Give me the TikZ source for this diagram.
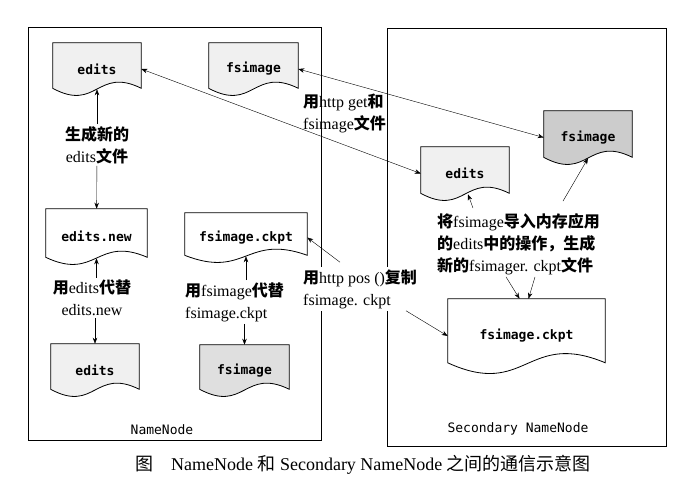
\documentclass[tikz,border=0pt]{standalone}
\usepackage{fontspec}
\setmainfont{Liberation Serif}
\setmonofont{DejaVu Sans Mono}
\newfontfamily\cjk{Noto Sans CJK SC}
\newcommand{\zh}[1]{{\cjk\bfseries #1}}
\newcommand{\zhr}[1]{{\cjk #1}}
\usetikzlibrary{arrows.meta, backgrounds}
\tikzset{
>={Stealth[length=6pt,width=4.5pt]}, % small filled arrow heads
file/.style={font=\ttfamily\bfseries\fontsize{13}{15}\selectfont, inner sep=2pt}, % text inside a file shape
note/.style={font=\fontsize{16}{22}\selectfont, inner sep=2pt}, % the texts on the arrows
box/.style={draw, line width=0.7pt}, % the two machines
boxname/.style={font=\ttfamily\fontsize{13}{15}\selectfont}, % name of a machine
}
% outline of a file with a wavy bottom: node, fill colour, size of the wave
\newcommand{\fileshape}[3]{
  \filldraw[fill=#2, line width=0.8pt] (#1.north west) -- (#1.north east) -- ([yshift=#3*7pt]#1.south east)
  .. controls ([yshift=#3*29pt]#1.south) and ([yshift=-#3*17pt]#1.south) .. ([yshift=#3*7pt]#1.south west) -- cycle;
}

\begin{document}
\begin{tikzpicture}[x=1pt, y=-1pt, line width=0.6pt]
    \useasboundingbox (0,0) rectangle (690,495);
    % the two machines
    \node[box, minimum width=293pt, minimum height=413pt] (nn) at (174.5,233.5) {};
    \node[box, minimum width=279pt, minimum height=418pt] (sn) at (526.5,237) {};
    \node[boxname] (nnname) at (162,430) {NameNode};
    \node[boxname] (snname) at (518,429) {Secondary NameNode};

    % files
    \node[file, minimum width=88pt, minimum height=52pt] (eA) at (97,69) {edits};
    \node[file, minimum width=89pt, minimum height=52pt] (fA) at (253.5,69) {fsimage};
    \node[file, minimum width=101pt, minimum height=55pt] (eN) at (96.5,236.5) {edits.new};
    \node[file, minimum width=122pt, minimum height=49pt] (cA) at (246,237.5) {fsimage.ckpt};
    \node[file, minimum width=88pt, minimum height=52pt] (eB) at (95,370) {edits};
    \node[file, minimum width=89pt, minimum height=51pt] (fB) at (244.5,370.5) {fsimage};
    \node[file, minimum width=88pt, minimum height=53pt] (fR) at (588,137.5) {fsimage};
    \node[file, minimum width=88pt, minimum height=53pt] (eR) at (465,173.5) {edits};
    \node[file, minimum width=157pt, minimum height=74pt] (cR) at (526.5,336) {fsimage.ckpt};

    \begin{pgfonlayer}{background}
    \foreach \n/\c/\s in {eA/gray!12/1, fA/gray!12/1, eN/white/1, cA/white/1, eB/gray!12/1,
        fB/gray!25/1, fR/gray!40/1, eR/gray!12/1, cR/white/1.5}
        {\fileshape{\n}{\c}{\s}}
    \end{pgfonlayer}

    % texts
    \node[note, align=center] (t1) at (97,145) {\zh{生成新的}\\edits\zh{文件}};
    \node[note, align=center] (t2) at (92,298) {\zh{用}edits\zh{代替}\\edits.new};
    \node[note, align=left, anchor=west] (t3) at (183,302) {\zh{用}fsimage\zh{代替}\\fsimage.ckpt};
    \node[note, align=left, anchor=west] (t4) at (301,113) {\zh{用}http get\zh{和}\\fsimage\zh{文件}};
    \node[note, align=left, anchor=west] (t5) at (435,244) {\zh{将}fsimage\zh{导入内存应用}\\\zh{的}edits\zh{中的操作，生成}\\\zh{新的}fsimager. ckpt\zh{文件}};
    \node[note, align=left, anchor=west, fill=white] (t6) at (301,289) {\zh{用}http pos ()\zh{复制}\\fsimage. ckpt};

    % arrows
    \draw[->] (t1) -- ([yshift=6pt]eA.south);
    \draw[->] (t1) -- (eN);
    \draw[->] (t2.north -| eN.south) -- ([yshift=6pt]eN.south);
    \draw[->] (t2.south -| eB.north) -- (eB.north);
    \draw[->] (t3.north -| cA.south) -- ([yshift=6pt]cA.south);
    \draw[->] (t3.south -| fB.north) -- (fB.north);
    \draw[<->] (eA.east) -- (eR.west);
    \draw[<->] (fA.east) -- (fR.west);
    \draw[->] ([xshift=38pt,yshift=3pt]t5.north west) -- ([xshift=3pt,yshift=6pt]eR.south);
    \draw[->] ([xshift=128pt,yshift=10pt]t5.north west) -- ([yshift=6pt]fR.south);
    \draw[->] ([xshift=71pt]t5.south west) -- ([xshift=-7pt]cR.north);
    \draw[->] ([xshift=100pt]t5.south west) -- ([xshift=2pt]cR.north);
    \draw[->] ([xshift=39pt,yshift=5pt]t6.north west) -- (cA.east);
    \draw[->] ([xshift=105pt]t6.south west) -- (cR.west);

    \node[font=\fontsize{18}{20}\selectfont] (caption) at (363,465) {\zhr{图}\hspace{1em}NameNode \zhr{和} Secondary NameNode \zhr{之间的通信示意图}};
\end{tikzpicture}
\end{document}
